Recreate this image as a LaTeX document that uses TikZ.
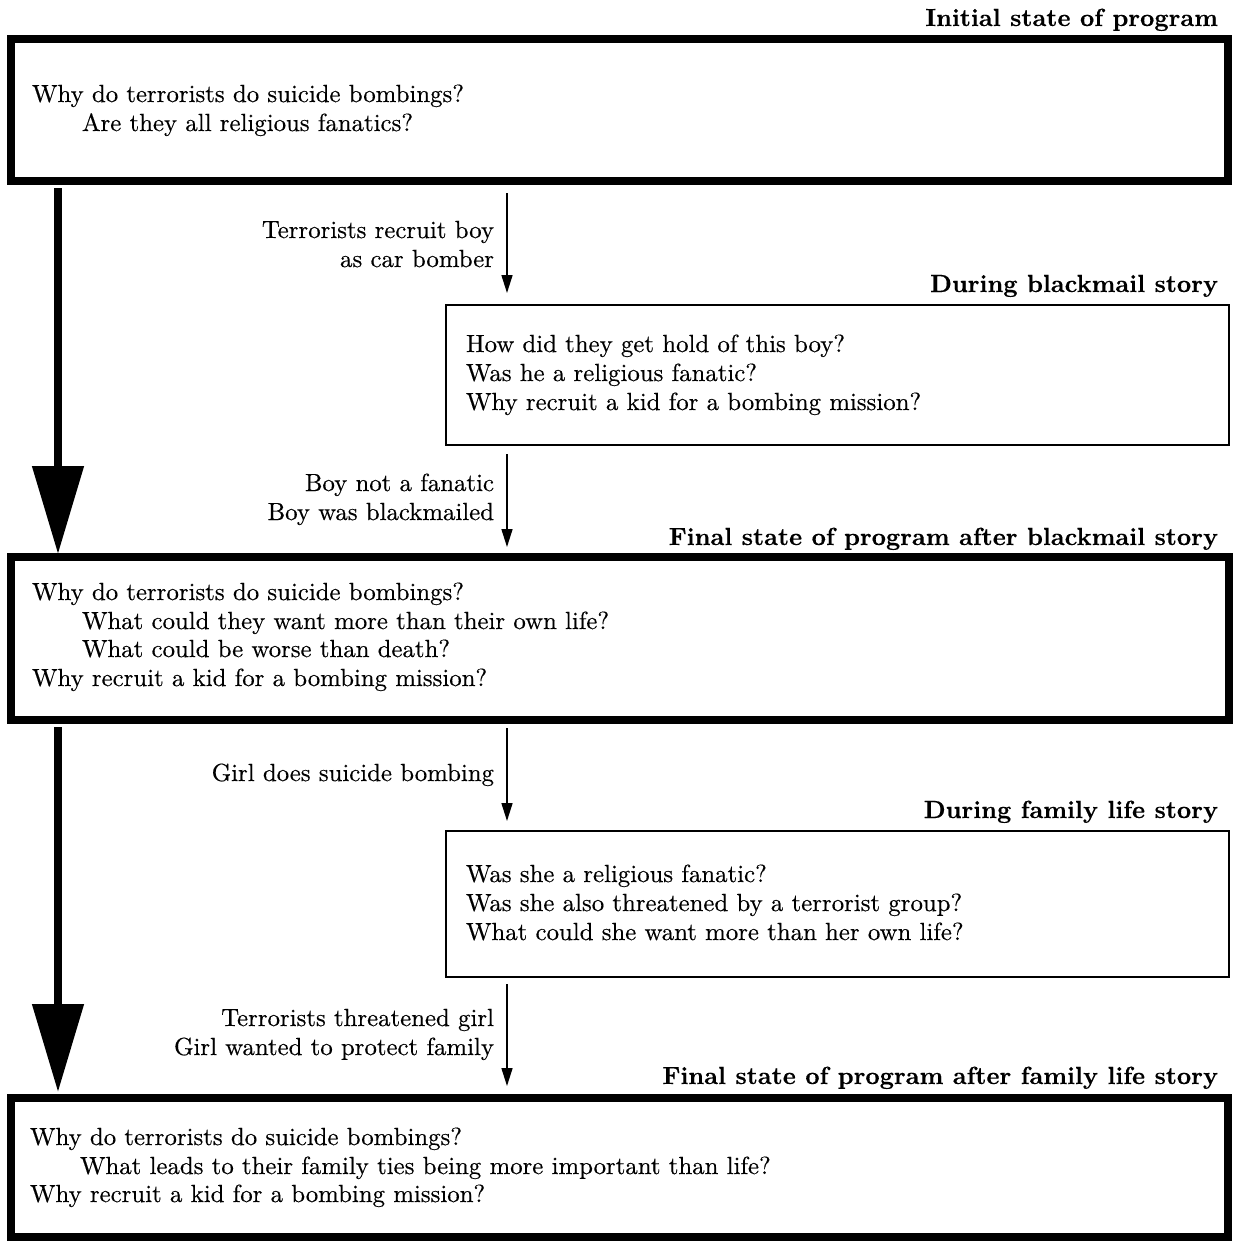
\documentclass[tikz,border=0pt]{standalone}
\usepackage{fontspec}
% the 10pt design of Latin Modern, scaled up, keeps the wide letter shapes
\setmainfont{lmroman10-regular}[Extension=.otf, FakeBold=0.4,
  BoldFont=lmroman10-bold, BoldFeatures={FakeBold=0.3}]
\usetikzlibrary{arrows.meta,calc}
\begin{document}
\begin{tikzpicture}[x=1pt,y=-1pt,
  every node/.style={inner sep=0pt, outer sep=0pt, font=\fontsize{24.8pt}{29pt}\selectfont},
  thickbox/.style={draw, line width=8pt, rectangle, anchor=north west},
  thinbox/.style={draw, line width=2.2pt, rectangle, anchor=north west},
  qline/.style={anchor=base west},
  caption/.style={anchor=base east, font=\fontsize{24.8pt}{29pt}\selectfont\bfseries},
  event/.style={anchor=base east},
  bigarrow/.style={line width=8pt, -{Triangle[length=88pt,width=50pt]}},
  smallarrow/.style={line width=1.6pt, -{Triangle[length=18pt,width=11pt]}}]
\useasboundingbox (0,0) rectangle (1235,1243);

% state boxes
\node[thickbox, minimum width=1217pt, minimum height=142pt] (box1) at (11,39) {};
\node[thinbox,  minimum width=783pt,  minimum height=140pt] (box2) at (446,305) {};
\node[thickbox, minimum width=1218pt, minimum height=163pt] (box3) at (11,557) {};
\node[thinbox,  minimum width=783pt,  minimum height=146pt] (box4) at (446,831) {};
\node[thickbox, minimum width=1217pt, minimum height=139pt] (box5) at (11,1098) {};

% box titles
\node[caption] (cap1) at (1218,26)   {Initial state of program};
\node[caption] (cap2) at (1218,292)  {During blackmail story};
\node[caption] (cap3) at (1218,545)  {Final state of program after blackmail story};
\node[caption] (cap4) at (1218,818)  {During family life story};
\node[caption] (cap5) at (1218,1084) {Final state of program after family life story};

% questions
\node[qline] (q1a) at (32,102) {Why do terrorists do suicide bombings?};
\node[qline] (q1b) at (82,131) {Are they all religious fanatics?};

\node[qline] (q2a) at (466,352) {How did they get hold of this boy?};
\node[qline] (q2b) at (466,381) {Was he a religious fanatic?};
\node[qline] (q2c) at (466,410) {Why recruit a kid for a bombing mission?};

\node[qline] (q3a) at (32,600) {Why do terrorists do suicide bombings?};
\node[qline] (q3b) at (82,629) {What could they want more than their own life?};
\node[qline] (q3c) at (82,657) {What could be worse than death?};
\node[qline] (q3d) at (32,686) {Why recruit a kid for a bombing mission?};

\node[qline] (q4a) at (466,882) {Was she a religious fanatic?};
\node[qline] (q4b) at (466,911) {Was she also threatened by a terrorist group?};
\node[qline] (q4c) at (466,940) {What could she want more than her own life?};

\node[qline] (q5a) at (30,1145) {Why do terrorists do suicide bombings?};
\node[qline] (q5b) at (80,1174) {What leads to their family ties being more important than life?};
\node[qline] (q5c) at (30,1202) {Why recruit a kid for a bombing mission?};

% story events
\node[event] (e1a) at (494,238)  {Terrorists recruit boy};
\node[event] (e1b) at (494,267)  {as car bomber};
\node[event] (e2a) at (494,491)  {Boy not a fanatic};
\node[event] (e2b) at (494,520)  {Boy was blackmailed};
\node[event] (e3a) at (494,781)  {Girl does suicide bombing};
\node[event] (e4a) at (494,1026) {Terrorists threatened girl};
\node[event] (e4b) at (494,1055) {Girl wanted to protect family};

% program state transitions
\draw[bigarrow] ($(box1.south west)+(47,7)$) -- ($(box3.north west)+(47,-3)$);
\draw[bigarrow] ($(box3.south west)+(47,7)$) -- ($(box5.north west)+(47,-6)$);

% story transitions
\draw[smallarrow] ($(box1.south west)+(496,12)$) -- ($(box2.north west)+(61,-12)$);
\draw[smallarrow] ($(box2.south west)+(61,9)$)   -- ($(box3.north west)+(496,-10)$);
\draw[smallarrow] ($(box3.south west)+(496,8)$)  -- ($(box4.north west)+(61,-10)$);
\draw[smallarrow] ($(box4.south west)+(61,7)$)   -- ($(box5.north west)+(496,-12)$);
\end{tikzpicture}
\end{document}
